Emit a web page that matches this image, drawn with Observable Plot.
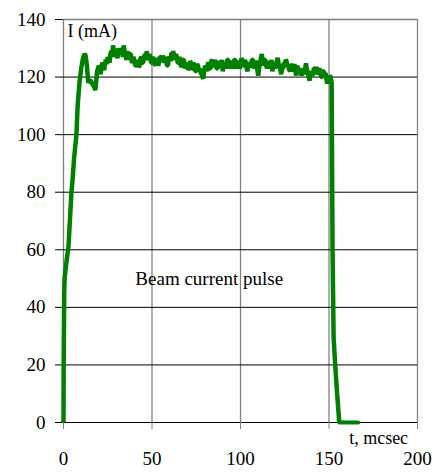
<!DOCTYPE html>
<html>
<head>
<meta charset="utf-8">
<script src="https://cdn.jsdelivr.net/npm/d3@7"></script>
<script src="https://cdn.jsdelivr.net/npm/@observablehq/plot@0.6"></script>
<style>
  html, body { margin: 0; padding: 0; background: #fff; }
</style>
</head>
<body>
<div id="chart"></div>
<script>
// Beam current pulse: time (mcsec) and current (mA)
const time = [
  0, 0.1, 0.4, 0.6, 1.5, 2.8, 3.6, 4.5, 5.2, 6, 7.3, 8, 9, 10, 11, 11.8, 12.5, 13.2, 14, 15, 16, 17, 18, 19,
  20, 20.5, 21, 21.5, 22, 22.5, 23, 23.5, 24, 24.5, 25, 25.5, 26, 26.5, 27, 27.5, 28, 28.5, 29, 29.5,
  30, 30.5, 31, 31.5, 32, 32.5, 33, 33.5, 34, 34.5, 35, 35.5, 36, 36.5, 37, 37.5, 38, 38.5, 39, 39.5,
  40, 40.5, 41, 41.5, 42, 42.5, 43, 43.5, 44, 44.5, 45, 45.5, 46, 46.5, 47, 47.5, 48, 48.5, 49, 49.5,
  50, 50.5, 51, 51.5, 52, 52.5, 53, 53.5, 54, 54.5, 55, 55.5, 56, 56.5, 57, 57.5, 58, 58.5, 59, 59.5,
  60, 60.5, 61, 61.5, 62, 62.5, 63, 63.5, 64, 64.5, 65, 65.5, 66, 66.5, 67, 67.5, 68, 68.5, 69, 69.5,
  70, 70.5, 71, 71.5, 72, 72.5, 73, 73.5, 74, 74.5, 75, 75.5, 76, 76.5, 77, 77.5, 78, 78.5, 79, 79.5,
  80, 80.5, 81, 81.5, 82, 82.5, 83, 83.5, 84, 84.5, 85, 85.5, 86, 86.5, 87, 87.5, 88, 88.5, 89, 89.5,
  90, 90.5, 91, 91.5, 92, 92.5, 93, 93.5, 94, 94.5, 95, 95.5, 96, 96.5, 97, 97.5, 98, 98.5, 99, 99.5,
  100, 100.5, 101, 101.5, 102, 102.5, 103, 103.5, 104, 104.5, 105, 105.5, 106, 106.5, 107, 107.5, 108, 108.5, 109, 109.5,
  110, 110.5, 111, 111.5, 112, 112.5, 113, 113.5, 114, 114.5, 115, 115.5, 116, 116.5, 117, 117.5, 118, 118.5, 119, 119.5,
  120, 120.5, 121, 121.5, 122, 122.5, 123, 123.5, 124, 124.5, 125, 125.5, 126, 126.5, 127, 127.5, 128, 128.5, 129, 129.5,
  130, 130.5, 131, 131.5, 132, 132.5, 133, 133.5, 134, 134.5, 135, 135.5, 136, 136.5, 137, 137.5, 138, 138.5, 139, 139.5,
  140, 140.5, 141, 141.5, 142, 142.5, 143, 143.5, 144, 144.5, 145, 145.5, 146, 146.5, 147, 147.5, 148, 148.5, 149, 149.5,
  150, 150.5, 151, 151.5, 152, 152.6, 153.5, 154.6, 155.8, 160, 166.5
];
const current = [
  0, 20, 45, 50, 55, 61, 70, 80, 85, 92, 100, 110, 118, 123, 126.5, 128, 127.5, 124, 118, 119, 118, 117, 115.5, 122,
  124, 122, 121, 124, 125, 123, 122.5, 125, 126, 124.5, 127, 126, 125, 128, 129, 127, 131, 129, 127, 129.5,
  128, 126.5, 130, 128.5, 128, 130, 129, 127, 131, 129, 128, 126, 129, 127.5, 126, 128, 128, 125.5, 125, 127,
  126, 124, 124, 126, 125, 123.5, 124, 126.5, 127, 125, 125, 127, 128, 126, 129, 127, 126, 128, 127, 125,
  125, 127, 126, 124.5, 124, 126.5, 126, 124, 125, 127, 127, 125.5, 127.5, 126, 125, 127, 126, 124, 124, 126.5,
  127, 125.5, 128.5, 127, 129, 127, 126, 128, 127, 125, 125, 127, 125, 123.5, 124, 126, 126, 124, 123, 125,
  124, 122.5, 123, 125.5, 125, 123, 123, 125, 124, 122, 122, 124.5, 124, 122, 123, 121.5, 121, 120, 119.5, 122,
  124, 123, 122, 124.5, 125, 123, 123, 125.5, 126, 124, 124, 126, 125, 123, 123, 125.5, 125, 123.5, 124, 126,
  122, 124, 125, 123, 124, 126, 126, 124, 123, 125.5, 125, 123, 124, 126, 126, 124, 123, 125.5, 125, 123,
  124, 126.5, 126, 124, 124, 126, 125, 123, 122, 124.5, 125, 123.5, 124, 126, 126, 124, 123, 125.5, 125, 122.5,
  120.5, 123, 125, 126.5, 128, 125.5, 124, 126, 126, 124, 123, 125, 125, 123, 124, 126, 122, 124, 125, 123,
  124, 125.5, 126.7, 124.5, 124, 122.5, 121, 123, 123, 125, 124, 126, 125.6, 123.5, 124, 122.5, 122, 124.5, 124, 122,
  123, 124.5, 122, 120.5, 124, 122.5, 121, 123, 122, 120.5, 123, 121.5, 121, 123, 124.8, 122.5, 122, 120, 118.7, 121,
  122, 120.5, 121, 123, 123, 121, 123.6, 121.5, 121, 123, 122, 120, 120, 122, 122, 120.5, 121.5, 119.5, 117.7, 119.5,
  119, 120.5, 120, 118, 60, 29.5, 20, 10, 0, 0, 0
];
const xTicks = [0, 50, 100, 150, 200];
const yTicks = [0, 20, 40, 60, 80, 100, 120, 140];
const innerGrid = [20, 40, 60, 80, 100, 120];
const vGrid = [0, 50, 100, 150, 200];
const yLabel = "I (mA)";
const xLabel = "t, mcsec";
const note = "Beam current pulse";

const data = time.map((t, i) => ({t, I: current[i]}));
const pulse = data.filter(d => d.t <= 155.8);
const tail = data.filter(d => d.t >= 155.8);
const serif = "Liberation Serif";

const chart = Plot.plot({
  width: 438,
  height: 473,
  marginLeft: 63,
  marginRight: 21,
  marginTop: 19,
  marginBottom: 51,
  x: {domain: [0, 200]},
  y: {domain: [0, 140]},
  style: {background: "#fff", color: "#000", fontFamily: serif},
  marks: [
    Plot.ruleX(vGrid, {stroke: "#808080", strokeWidth: 1.3}),
    Plot.ruleY(innerGrid, {stroke: "#000", strokeWidth: 1}),
    Plot.ruleY([140], {stroke: "#808080", strokeWidth: 1.3}),
    Plot.ruleY([0], {stroke: "#000", strokeWidth: 1}),
    Plot.axisY({ticks: yTicks, tickSize: 8, tickPadding: 10, label: null, stroke: "#000", fill: "#000", fontSize: 19, fontFamily: serif}),
    Plot.axisX({ticks: xTicks, tickSize: 7, tickPadding: 22, label: null, stroke: "#808080", fill: "#000", fontSize: 19, fontFamily: serif}),
    Plot.line(pulse, {x: "t", y: "I", stroke: "#008000", strokeWidth: 4.5, strokeLinejoin: "miter", strokeLinecap: "butt"}),
    Plot.line(tail, {x: "t", y: "I", stroke: "#008000", strokeWidth: 4, strokeDasharray: "3,1.2"}),
    Plot.text([yLabel], {x: 2.3, y: 136, text: d => d, textAnchor: "start", fontSize: 18, fill: "#000", fontFamily: serif}),
    Plot.text([xLabel], {x: 194.7, y: -5.3, text: d => d, textAnchor: "end", fontSize: 18, fill: "#000", fontFamily: serif}),
    Plot.text([note], {x: 40.6, y: 50, text: d => d, textAnchor: "start", fontSize: 19, fill: "#000", fontFamily: serif})
  ]
});
document.getElementById("chart").appendChild(chart);
</script>
</body>
</html>
